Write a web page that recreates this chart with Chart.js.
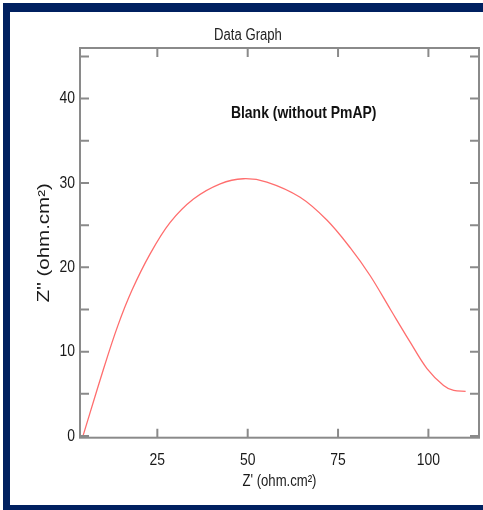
<!DOCTYPE html>
<html>
<head>
<meta charset="utf-8">
<script src="https://cdn.jsdelivr.net/npm/chart.js@4"></script>
<style>
  html, body { margin: 0; padding: 0; background: #fff; overflow: hidden; }
  #chart { display: block; }
</style>
</head>
<body>
<canvas id="chart" width="483" height="510"></canvas>
<script>
// Nyquist curve
const zReal = [4.5, 10.0, 14.0, 18.0, 23.0, 28.5, 35.0, 42.4, 48.8, 55.3, 64.5, 71.9, 78.4, 83.9, 89.5, 95.0, 99.6, 104.2, 107.0, 110.3];
const zImag = [0.1, 7.8, 13.0, 17.3, 21.6, 25.3, 28.1, 29.9, 30.5, 30.1, 28.3, 25.6, 22.3, 19.0, 15.0, 11.1, 8.0, 6.0, 5.4, 5.3];

const xTicks = [25, 50, 75, 100];
const yTicks = [0, 5, 10, 15, 20, 25, 30, 35, 40, 45];
const yLabelled = [0, 10, 20, 30, 40];

const FONT = "'Liberation Sans', Arial, sans-serif";
const AXIS_GREY = '#8a8a8a';
const NAVY = '#002060';
const NARROW = 0.82;      // no narrow font installed, squeeze horizontal text instead
const ROT_STRETCH = 1.28; // the vertical title is drawn taller in the original

const canvas = document.getElementById('chart');
const ctx2d = canvas.getContext('2d');
const nativeFillText = ctx2d.fillText;
ctx2d.fillText = function (text, x, y, maxWidth) {
    const m = this.getTransform();
    const k = Math.abs(m.b) > 0.5 ? ROT_STRETCH : NARROW;
    this.save();
    this.translate(x, y);
    this.scale(k, 1);
    if (maxWidth === undefined) nativeFillText.call(this, text, 0, 0);
    else nativeFillText.call(this, text, 0, 0, maxWidth / k);
    this.restore();
};

// navy page frame (top, left, bottom)
const pageFrame = {
    id: 'pageFrame',
    beforeDraw(chart) {
        const { ctx, width, height } = chart;
        ctx.save();
        ctx.fillStyle = NAVY;
        ctx.fillRect(3, 3, width - 3, 9);
        ctx.fillRect(3, 3, 7, height - 3);
        ctx.fillRect(3, height - 5, width - 3, 5);
        ctx.restore();
    }
};

// box with inward ticks on all four sides
const framePlugin = {
    id: 'frameTicks',
    afterDraw(chart) {
        const { ctx, chartArea: a, scales } = chart;
        const len = 9;
        ctx.save();
        ctx.strokeStyle = AXIS_GREY;
        ctx.lineWidth = 2;
        ctx.strokeRect(a.left, a.top, a.right - a.left, a.bottom - a.top);
        ctx.beginPath();
        xTicks.forEach(v => {
            const px = scales.x.getPixelForValue(v);
            ctx.moveTo(px, a.bottom); ctx.lineTo(px, a.bottom - len);
            ctx.moveTo(px, a.top); ctx.lineTo(px, a.top + len);
        });
        yTicks.forEach(v => {
            const py = scales.y.getPixelForValue(v);
            ctx.moveTo(a.left, py); ctx.lineTo(a.left + len, py);
            ctx.moveTo(a.right, py); ctx.lineTo(a.right - len, py);
        });
        ctx.stroke();

        // annotation text
        ctx.fillStyle = '#111';
        ctx.font = 'bold 17px ' + FONT;
        ctx.textAlign = 'center';
        ctx.textBaseline = 'middle';
        ctx.fillText('Blank (without PmAP)', scales.x.getPixelForValue(65.5), scales.y.getPixelForValue(38.3));
        ctx.restore();
    }
};

new Chart(canvas, {
    type: 'scatter',
    data: {
        datasets: [{
            data: zReal.map((x, i) => ({ x: x, y: zImag[i] })),
            showLine: true,
            borderColor: 'rgb(255, 110, 110)',
            borderWidth: 1.3,
            pointRadius: 0,
            tension: 0.35
        }]
    },
    options: {
        responsive: false,
        devicePixelRatio: 1,
        animation: false,
        layout: { padding: { left: 17, right: 4, top: 0, bottom: 0 } },
        plugins: {
            legend: { display: false },
            tooltip: { enabled: false },
            title: {
                display: true,
                text: 'Data Graph',
                color: '#222',
                font: { family: FONT, size: 16, weight: 'normal' },
                padding: { top: 26, bottom: 2.8 }
            }
        },
        scales: {
            x: {
                type: 'linear',
                min: 3.6,
                max: 114,
                afterBuildTicks: s => { s.ticks = xTicks.map(v => ({ value: v })); },
                afterFit: s => { s.height = 72.3; },
                grid: { display: false, drawTicks: false },
                border: { display: false },
                ticks: { color: '#1a1a1a', padding: 12, font: { family: FONT, size: 17 }, maxRotation: 0 },
                title: {
                    display: true,
                    text: "Z' (ohm.cm²)",
                    color: '#1a1a1a',
                    font: { family: FONT, size: 16 },
                    padding: { top: 0, bottom: 19 }
                }
            },
            y: {
                type: 'linear',
                min: -0.2,
                max: 46,
                afterBuildTicks: s => { s.ticks = yTicks.map(v => ({ value: v })); },
                afterFit: s => { s.width = 63; },
                grid: { display: false, drawTicks: false },
                border: { display: false },
                ticks: {
                    color: '#1a1a1a',
                    padding: 5,
                    font: { family: FONT, size: 17 },
                    callback: v => yLabelled.includes(v) ? String(v) : ''
                },
                title: {
                    display: true,
                    text: "Z'' (ohm.cm²)",
                    color: '#1a1a1a',
                    font: { family: FONT, size: 16 },
                    padding: { top: 18.4, bottom: 0 }
                }
            }
        }
    },
    plugins: [pageFrame, framePlugin]
});
</script>
</body>
</html>
